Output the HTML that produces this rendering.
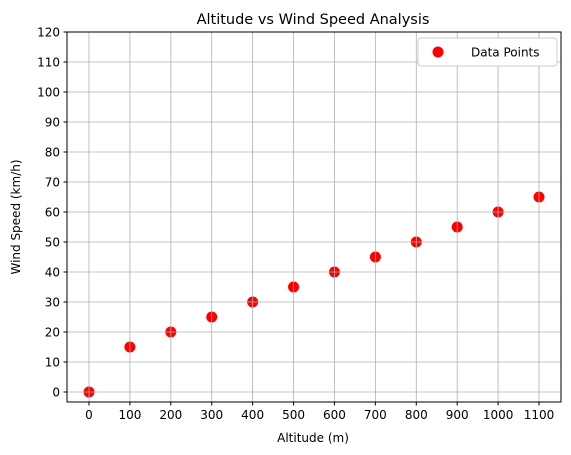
<!DOCTYPE html>
<html><head><meta charset="utf-8"><style>
body{margin:0;background:#fff;}
svg{display:block;font-family:"DejaVu Sans","Liberation Sans",sans-serif;}
</style></head><body>
<svg id="chart" width="571" height="455">
<text x="313" y="24" font-size="14.5" text-anchor="middle" fill="#000">Altitude vs Wind Speed Analysis</text>
<g id="grid"></g>
<g id="pts"></g>
<g id="gridtop"></g>
<rect x="67" y="32" width="494" height="370" fill="none" stroke="#000" stroke-width="1"/>
<g id="ticks"></g>
<text x="313" y="442" font-size="12" text-anchor="middle">Altitude (m)</text>
<text transform="translate(20,217) rotate(-90)" font-size="12" text-anchor="middle">Wind Speed (km/h)</text>
<g>
<rect x="418" y="38" width="139" height="28" rx="3" fill="#fff" stroke="#ccc"/>
<circle cx="438" cy="52" r="5.5" fill="red"/>
<text x="471" y="56.5" font-size="12">Data Points</text>
</g>
</svg>
<script>
const altitudes=[0,100,200,300,400,500,600,700,800,900,1000,1100];
const speeds=[0,15,20,25,30,35,40,45,50,55,60,65];
const xTicks=[0,100,200,300,400,500,600,700,800,900,1000,1100];
const yTicks=[0,10,20,30,40,50,60,70,80,90,100,110,120];
const NS="http://www.w3.org/2000/svg";
const xs=v=>89+v*(450/1100);
const ys=v=>392-v*3;
function mk(t,a,p){const e=document.createElementNS(NS,t);for(const k in a)e.setAttribute(k,a[k]);p.appendChild(e);return e;}
const grid=document.getElementById('gridtop'),tk=document.getElementById('ticks'),pts=document.getElementById('pts');
altitudes.forEach((a,i)=>{
 const c=mk('circle',{cx:xs(a),cy:ys(speeds[i]),r:5.5,fill:'red'},pts);
 
 
});
xTicks.forEach(v=>{
 const x=xs(v);
 const l=mk('line',{x1:x,x2:x,y1:32,y2:402,stroke:'#b0b0b0','stroke-width':0.8},grid);
 
 
 mk('line',{x1:x,x2:x,y1:402,y2:405.5,stroke:'#000'},tk);
 const t=mk('text',{x:x,y:419,'font-size':12,'text-anchor':'middle'},tk);t.textContent=v;
 
 
});
yTicks.forEach(v=>{
 const y=ys(v);
 const l=mk('line',{x1:67,x2:561,y1:y,y2:y,stroke:'#b0b0b0','stroke-width':0.8},grid);
 
 
 mk('line',{x1:63.5,x2:67,y1:y,y2:y,stroke:'#000'},tk);
 const t=mk('text',{x:60,y:y+4.5,'font-size':12,'text-anchor':'end'},tk);t.textContent=v;
 
 
});
</script>
</body></html>
